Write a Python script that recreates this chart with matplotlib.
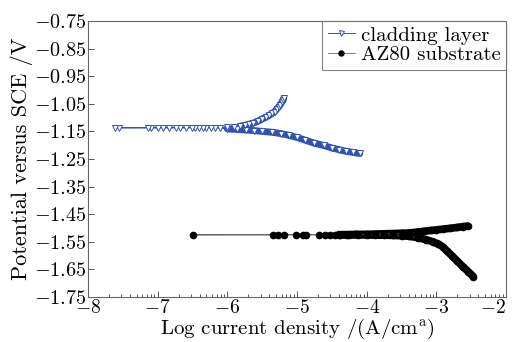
import numpy as np
import matplotlib
matplotlib.use("Agg")
import matplotlib.pyplot as plt
from matplotlib.ticker import FixedLocator

plt.rcParams['font.family'] = 'cmr10'
plt.rcParams['mathtext.fontset'] = 'cm'
plt.rcParams['axes.formatter.use_mathtext'] = True

# cladding layer: cathodic branch, points near Ecorr, anodic branch
clad_cath_x = [-4.10, -4.20, -4.30, -4.40, -4.50, -4.62, -4.76, -4.88, -5.00, -5.12,
               -5.23, -5.36, -5.50, -5.62, -5.73, -5.86, -6.00]
clad_cath_y = [-1.230, -1.226, -1.222, -1.216, -1.210, -1.201, -1.192, -1.182, -1.172, -1.164,
               -1.158, -1.153, -1.150, -1.147, -1.145, -1.143, -1.141]
clad_ecorr_x = [-6.18, -6.23, -6.30, -6.35, -6.41, -6.47, -6.51, -6.60, -6.68, -6.73,
                -6.84, -6.93, -6.99, -7.09, -7.14, -7.56, -7.61]
clad_ecorr_y = [-1.137] * 17
clad_an_x = [-6.10, -6.00, -5.90, -5.82, -5.75, -5.69, -5.63, -5.56, -5.50, -5.45,
             -5.40, -5.36, -5.32, -5.29, -5.26, -5.24, -5.22, -5.20, -5.19]
clad_an_y = [-1.136, -1.135, -1.133, -1.131, -1.128, -1.124, -1.120, -1.113, -1.105, -1.099,
             -1.092, -1.085, -1.078, -1.069, -1.060, -1.053, -1.045, -1.037, -1.030]

# AZ80 substrate
az_cath_x = [-2.47, -2.54, -2.62, -2.70, -2.78, -2.85, -2.91, -2.97, -3.05, -3.15,
             -3.27, -3.39, -3.50, -3.62, -3.75, -3.88, -4.00, -4.12, -4.25, -4.38]
az_cath_y = [-1.676, -1.659, -1.640, -1.620, -1.600, -1.583, -1.568, -1.558, -1.550, -1.542,
             -1.535, -1.530, -1.528, -1.527, -1.526, -1.526, -1.525, -1.525, -1.525, -1.525]
az_ecorr_x = [-4.45, -4.53, -4.60, -4.68, -4.87, -4.92, -5.02, -5.18, -5.27, -5.35, -6.50]
az_ecorr_y = [-1.525] * 11
az_an_x = [-4.40, -4.28, -4.15, -4.00, -3.88, -3.75, -3.62, -3.50, -3.39, -3.28,
           -3.18, -3.08, -3.00, -2.90, -2.80, -2.70, -2.62, -2.55]
az_an_y = [-1.524, -1.524, -1.523, -1.523, -1.522, -1.521, -1.520, -1.519, -1.518, -1.515,
           -1.512, -1.509, -1.507, -1.504, -1.501, -1.498, -1.495, -1.493]

blue = '#2f52b4'

fig = plt.figure(figsize=(5.13, 3.42), dpi=100)
ax = fig.add_axes([0.1715, 0.1316, 0.815, 0.807])

clad_x = clad_cath_x + clad_ecorr_x + clad_an_x
clad_y = clad_cath_y + clad_ecorr_y + clad_an_y
az_x = az_cath_x + az_ecorr_x + az_an_x
az_y = az_cath_y + az_ecorr_y + az_an_y

# dense bands of the branches
for bx, by in [(clad_cath_x, clad_cath_y), (clad_an_x[3:], clad_an_y[3:])]:
    ax.plot(bx, by, color=blue, lw=5, solid_capstyle='round', zorder=2)
for bx, by in [(az_cath_x, az_cath_y), (az_an_x, az_an_y)]:
    ax.plot(bx, by, color='black', lw=5.5, solid_capstyle='round', zorder=2)

ax.plot(clad_x, clad_y, color=blue, lw=0.7, marker='v', ms=4.5, mfc='white',
        mec=blue, mew=0.7, label='cladding layer', zorder=3)
ax.plot(az_x, az_y, color='#666666', lw=0.6, marker='o', ms=4.5, mfc='black',
        mec='black', label='AZ80 substrate', zorder=3)

ax.set_xlim(-8, -2)
ax.set_ylim(-1.75, -0.75)
ax.set_yticks(np.arange(-1.75, -0.74, 0.1))
ax.set_xticks(np.arange(-8, -1.9, 1))
minor = [d + np.log10(k) for d in range(-8, -2) for k in range(2, 10)]
ax.xaxis.set_minor_locator(FixedLocator(minor))
ax.yaxis.set_major_formatter(plt.FuncFormatter(lambda v, p: r'$%.2f$' % v))
ax.xaxis.set_major_formatter(plt.FuncFormatter(lambda v, p: r'$%d$' % round(v)))

ax.tick_params(direction='in', which='both', top=False, right=False,
               labelsize=14.5, color='#555555', width=0.7)
ax.tick_params(which='major', length=4)
ax.tick_params(which='minor', length=2.5)
ax.tick_params(axis='x', pad=1.5, labelsize=14)
ax.tick_params(axis='y', pad=1)
for s in ax.spines.values():
    s.set_color('#666666')
    s.set_linewidth(0.8)

ax.set_xlabel(r'Log current density /(A/cm$^{\rm a}$)', fontsize=15, labelpad=0)
ax.set_ylabel('Potential versus SCE /V', fontsize=16, labelpad=1)

fig.canvas.draw()
ax.get_xticklabels()[-1].set_horizontalalignment('right')

leg = ax.legend(loc='upper right', borderaxespad=0, fontsize=15, handlelength=1.3,
                handletextpad=0.3, labelspacing=0.05, borderpad=0.25, fancybox=False,
                markerscale=0.8)
leg.get_frame().set_edgecolor('#666666')
leg.get_frame().set_linewidth(0.8)

fig.savefig('out.png', dpi=100)
